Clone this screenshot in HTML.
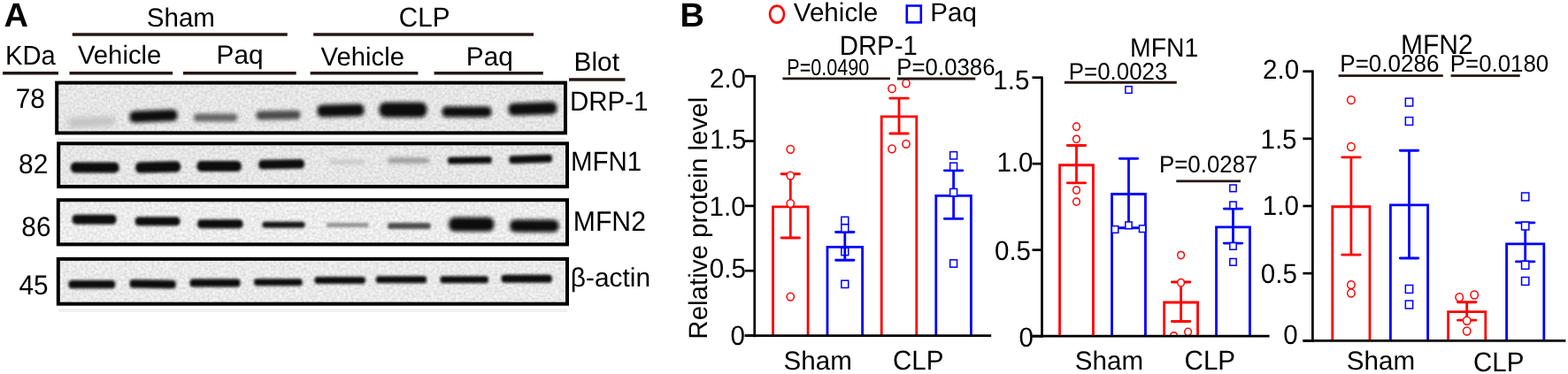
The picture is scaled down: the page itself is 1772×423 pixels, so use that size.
<!DOCTYPE html>
<html><head><meta charset="utf-8"><title>Figure</title>
<style>html,body{margin:0;padding:0;background:#fff;}svg{display:block;}text{font-family:'Liberation Sans', Arial, Helvetica, sans-serif;fill:#000;text-rendering:geometricPrecision;}</style>
</head><body>
<svg width="1772" height="423" viewBox="0 0 1772 423">
<rect width="1772" height="423" fill="#fff"/>
<text x="4.44" y="30.40" font-size="38" font-weight="bold">A</text>
<text x="165.72" y="29.50" font-size="29.6">Sham</text>
<text transform="translate(450.82 29.60) scale(1 1.045)" font-size="29.6">CLP</text>
<text transform="translate(5.96 73.30) scale(1 1.045)" font-size="29.2">KDa</text>
<text x="87.90" y="72.20" font-size="29.3">Vehicle</text>
<text x="244.62" y="72.20" font-size="29.8">Paq</text>
<text x="362.50" y="74.00" font-size="29.3">Vehicle</text>
<text x="526.82" y="74.00" font-size="29.8">Paq</text>
<text x="648.62" y="80.00" font-size="29.8">Blot</text>
<text transform="translate(17.71 122.00) scale(1 1.045)" font-size="29.8">78</text>
<text transform="translate(21.11 195.80) scale(1 1.045)" font-size="29.8">82</text>
<text transform="translate(24.31 267.40) scale(1 1.045)" font-size="29.8">86</text>
<text transform="translate(21.40 332.50) scale(1 1.045)" font-size="29.8">45</text>
<text transform="translate(643.94 124.70) scale(1 1.045)" font-size="29.5">DRP-1</text>
<text transform="translate(644.94 192.50) scale(1 1.045)" font-size="29.5">MFN1</text>
<text transform="translate(647.78 260.70) scale(1 1.045)" font-size="30.2">MFN2</text>
<text x="644.81" y="324.10" font-size="29.9">β-actin</text>
<line x1="81.7" y1="39" x2="324.8" y2="39" stroke="#231815" stroke-width="3.6"/>
<line x1="354.2" y1="39" x2="603" y2="39" stroke="#231815" stroke-width="3.6"/>
<line x1="3" y1="82.7" x2="66" y2="82.7" stroke="#231815" stroke-width="3.6"/>
<line x1="78.5" y1="82.7" x2="195.2" y2="82.7" stroke="#231815" stroke-width="3.6"/>
<line x1="207" y1="82.7" x2="334.7" y2="82.7" stroke="#231815" stroke-width="3.6"/>
<line x1="350.6" y1="82.7" x2="472.4" y2="82.7" stroke="#231815" stroke-width="3.6"/>
<line x1="490.6" y1="82.7" x2="613.8" y2="82.7" stroke="#231815" stroke-width="3.6"/>
<line x1="643" y1="90" x2="706.5" y2="90" stroke="#231815" stroke-width="3.6"/>
<defs><filter id="bl1_5" x="-30%" y="-150%" width="160%" height="400%"><feGaussianBlur stdDeviation="1.5"/></filter><filter id="bl1_6" x="-30%" y="-150%" width="160%" height="400%"><feGaussianBlur stdDeviation="1.6"/></filter><filter id="bl1_8" x="-30%" y="-150%" width="160%" height="400%"><feGaussianBlur stdDeviation="1.8"/></filter><filter id="bl2" x="-30%" y="-150%" width="160%" height="400%"><feGaussianBlur stdDeviation="2"/></filter><filter id="bl2_2" x="-30%" y="-150%" width="160%" height="400%"><feGaussianBlur stdDeviation="2.2"/></filter><filter id="bl3" x="-30%" y="-150%" width="160%" height="400%"><feGaussianBlur stdDeviation="3"/></filter></defs>
<rect x="64.2" y="156.0" width="574.8" height="3.6" fill="#f0f0f0"/>
<rect x="65.8" y="349.3" width="575.2" height="3.6" fill="#f0f0f0"/>
<filter id="nz" x="0" y="0" width="100%" height="100%"><feTurbulence type="fractalNoise" baseFrequency="0.32" numOctaves="2" seed="5"/><feColorMatrix type="matrix" values="0 0 0 0 0  0 0 0 0 0  0 0 0 0 0  0.22 0 0 0 -0.065"/><feGaussianBlur stdDeviation="0.5"/></filter>
<rect x="64.2" y="93.6" width="574.8" height="56.80000000000001" fill="#f0f0f0" stroke="#000" stroke-width="4.0"/>
<rect x="66.2" y="95.6" width="570.8" height="52.80000000000001" fill="#000" filter="url(#nz)"/>
<rect x="76.5" y="132.5" width="53" height="11" rx="4.62" fill="rgb(194,194,194)" filter="url(#bl3)" transform="rotate(-3 103.0 138)"/>
<rect x="146.5" y="124.80000000000001" width="54" height="13" rx="5.46" fill="rgb(16,16,16)" filter="url(#bl2_2)" transform="rotate(-2.5 173.5 131.3)"/>
<rect x="219.1" y="128.5" width="49.00000000000003" height="9" rx="3.78" fill="rgb(101,101,101)" filter="url(#bl2)" transform="rotate(0 243.60000000000002 133)"/>
<rect x="289.5" y="125.30000000000001" width="50" height="10" rx="4.20" fill="rgb(72,72,72)" filter="url(#bl2)" transform="rotate(-1 314.5 130.3)"/>
<rect x="358.5" y="117.9" width="53" height="14" rx="5.88" fill="#0c0c0c" filter="url(#bl2)" transform="rotate(-1.5 385.0 124.9)"/>
<rect x="428.5" y="115.7" width="54" height="17" rx="7.14" fill="#0c0c0c" filter="url(#bl2)" transform="rotate(0 455.5 124.2)"/>
<rect x="499.5" y="120.4" width="56" height="12" rx="5.04" fill="#0c0c0c" filter="url(#bl2)" transform="rotate(0 527.5 126.4)"/>
<rect x="574.5" y="116.0" width="55" height="14" rx="5.88" fill="#0c0c0c" filter="url(#bl2)" transform="rotate(-2 602.0 123)"/>
<rect x="66.2" y="162.3" width="574.8" height="48.79999999999998" fill="#f0f0f0" stroke="#000" stroke-width="4.0"/>
<rect x="68.2" y="164.3" width="570.8" height="44.79999999999998" fill="#000" filter="url(#nz)"/>
<rect x="79.9" y="183.5" width="54.599999999999994" height="12" rx="5.04" fill="#0c0c0c" filter="url(#bl1_8)" transform="rotate(0 107.2 189.5)"/>
<rect x="153.1" y="182.75" width="51.0" height="12.5" rx="5.25" fill="#0c0c0c" filter="url(#bl1_8)" transform="rotate(-1.5 178.6 189)"/>
<rect x="222.5" y="182.0" width="50.30000000000001" height="12" rx="5.04" fill="#0c0c0c" filter="url(#bl1_8)" transform="rotate(0 247.65 188)"/>
<rect x="292.2" y="180.55" width="51.80000000000001" height="10.5" rx="4.41" fill="#0c0c0c" filter="url(#bl1_8)" transform="rotate(-1 318.1 185.8)"/>
<rect x="373.1" y="181.3" width="38.69999999999999" height="4" rx="1.68" fill="rgb(191,191,191)" filter="url(#bl2)" transform="rotate(0 392.45000000000005 183.3)"/>
<rect x="438.1" y="178.6" width="46.89999999999998" height="6" rx="2.52" fill="rgb(151,151,151)" filter="url(#bl2)" transform="rotate(0 461.55 181.6)"/>
<rect x="506.0" y="177.3" width="49.799999999999955" height="8" rx="3.36" fill="#0c0c0c" filter="url(#bl1_6)" transform="rotate(-1 530.9 181.3)"/>
<rect x="575.4" y="175.5" width="48.60000000000002" height="9" rx="3.78" fill="#0c0c0c" filter="url(#bl1_6)" transform="rotate(-2 599.7 180)"/>
<rect x="65.8" y="226.2" width="575.2" height="50.19999999999999" fill="#f7f7f7" stroke="#000" stroke-width="4.0"/>
<rect x="67.8" y="228.2" width="571.2" height="46.19999999999999" fill="#000" filter="url(#nz)"/>
<rect x="81.5" y="242.7" width="50" height="11" rx="4.62" fill="#0c0c0c" filter="url(#bl1_8)" transform="rotate(0 106.5 248.2)"/>
<rect x="152.7" y="245.3" width="50.80000000000001" height="10" rx="4.20" fill="#0c0c0c" filter="url(#bl1_8)" transform="rotate(0 178.1 250.3)"/>
<rect x="223.1" y="248.3" width="51.400000000000006" height="10" rx="4.20" fill="#0c0c0c" filter="url(#bl1_8)" transform="rotate(0 248.8 253.3)"/>
<rect x="296.5" y="250.8" width="48" height="7" rx="2.94" fill="rgb(18,18,18)" filter="url(#bl1_6)" transform="rotate(0 320.5 254.3)"/>
<rect x="369.0" y="252.0" width="47.80000000000001" height="5" rx="2.10" fill="rgb(146,146,146)" filter="url(#bl1_5)" transform="rotate(0 392.9 254.5)"/>
<rect x="438.1" y="252.1" width="48.599999999999966" height="7" rx="2.94" fill="rgb(79,79,79)" filter="url(#bl1_6)" transform="rotate(0 462.4 255.6)"/>
<rect x="507.2" y="245.7" width="51.099999999999966" height="16" rx="6.72" fill="#0c0c0c" filter="url(#bl2)" transform="rotate(0 532.75 253.7)"/>
<rect x="576.2" y="248.5" width="55.299999999999955" height="14" rx="5.88" fill="#0c0c0c" filter="url(#bl2)" transform="rotate(0 603.85 255.5)"/>
<rect x="65.8" y="292.9" width="575.2" height="50.80000000000001" fill="#f4f4f4" stroke="#000" stroke-width="4.0"/>
<rect x="67.8" y="294.9" width="571.2" height="46.80000000000001" fill="#000" filter="url(#nz)"/>
<rect x="77.4" y="316.90000000000003" width="52.79999999999998" height="9.4" rx="3.95" fill="#0c0c0c" filter="url(#bl1_6)" transform="rotate(0 103.8 321.6)"/>
<rect x="146.5" y="316.45" width="52.30000000000001" height="9.5" rx="3.99" fill="#0c0c0c" filter="url(#bl1_6)" transform="rotate(1 172.65 321.2)"/>
<rect x="214.5" y="315.5" width="57" height="9" rx="3.78" fill="#0c0c0c" filter="url(#bl1_6)" transform="rotate(0 243.0 320)"/>
<rect x="287.0" y="315.2" width="54.80000000000001" height="8" rx="3.36" fill="#0c0c0c" filter="url(#bl1_6)" transform="rotate(0 314.4 319.2)"/>
<rect x="355.5" y="313.0" width="57.39999999999998" height="8" rx="3.36" fill="#0c0c0c" filter="url(#bl1_6)" transform="rotate(0 384.2 317)"/>
<rect x="424.8" y="312.3" width="57.30000000000001" height="8" rx="3.36" fill="#0c0c0c" filter="url(#bl1_6)" transform="rotate(0 453.45000000000005 316.3)"/>
<rect x="497.5" y="312.3" width="54.39999999999998" height="8" rx="3.36" fill="#0c0c0c" filter="url(#bl1_6)" transform="rotate(0 524.7 316.3)"/>
<rect x="566.5" y="310.8" width="57.39999999999998" height="9" rx="3.78" fill="#0c0c0c" filter="url(#bl1_6)" transform="rotate(0 595.2 315.3)"/>
<text x="768.62" y="30.40" font-size="38" font-weight="bold">B</text>
<ellipse cx="878" cy="16.1" rx="8.05" ry="9.5" fill="none" stroke="#ff0000" stroke-width="2.6"/>
<text x="896.80" y="24.20" font-size="29.6">Vehicle</text>
<rect x="1024.8" y="6.5" width="16" height="18.9" fill="none" stroke="#0000ff" stroke-width="2.6"/>
<text x="1051.23" y="24.20" font-size="29.6">Paq</text>
<text transform="translate(948.65 62.00) scale(1 1.045)" font-size="29.4">DRP-1</text>
<clipPath id="cp1"><rect x="852.75" y="0" width="267.45000000000005" height="378.30"/></clipPath>
<path d="M873.50 379.60 V233.78 H913.10 V379.60" fill="none" stroke="#ff0000" stroke-width="2.8"/>
<line x1="893.3" y1="196.81180000000003" x2="893.3" y2="268.9882" stroke="#ff0000" stroke-width="2.8"/>
<path d="M883.10 196.81 H903.50 M883.10 268.99 H903.50" stroke="#ff0000" stroke-width="2.9" stroke-linecap="round"/>
<g clip-path="url(#cp1)">
<ellipse cx="893.30" cy="168.79" rx="4.15" ry="4.40" fill="#fff" stroke="#ff0000" stroke-width="1.5"/>
<ellipse cx="893.30" cy="198.57" rx="4.15" ry="4.40" fill="#fff" stroke="#ff0000" stroke-width="1.5"/>
<ellipse cx="893.30" cy="230.11" rx="4.15" ry="4.40" fill="#fff" stroke="#ff0000" stroke-width="1.5"/>
<ellipse cx="893.30" cy="335.59" rx="4.15" ry="4.40" fill="#fff" stroke="#ff0000" stroke-width="1.5"/>
</g>
<path d="M935.00 379.60 V279.40 H974.60 V379.60" fill="none" stroke="#0000ff" stroke-width="2.8"/>
<line x1="954.8" y1="262.53340000000003" x2="954.8" y2="294.22060000000005" stroke="#0000ff" stroke-width="2.8"/>
<path d="M944.60 262.53 H965.00 M944.60 294.22 H965.00" stroke="#0000ff" stroke-width="2.9" stroke-linecap="round"/>
<g clip-path="url(#cp1)">
<rect x="950.85" y="245.33" width="7.90" height="8.30" fill="#fff" stroke="#0000ff" stroke-width="1.5"/>
<rect x="950.85" y="253.84" width="7.90" height="8.30" fill="#fff" stroke="#0000ff" stroke-width="1.5"/>
<rect x="950.85" y="280.39" width="7.90" height="8.30" fill="none" stroke="#0000ff" stroke-width="1.5"/>
<rect x="950.85" y="317.21" width="7.90" height="8.30" fill="#fff" stroke="#0000ff" stroke-width="1.5"/>
</g>
<path d="M996.20 379.60 V131.97 H1035.80 V379.60" fill="none" stroke="#ff0000" stroke-width="2.8"/>
<line x1="1016.0" y1="111.13900000000001" x2="1016.0" y2="151.04140000000004" stroke="#ff0000" stroke-width="2.8"/>
<path d="M1005.80 111.14 H1026.20 M1005.80 151.04 H1026.20" stroke="#ff0000" stroke-width="2.9" stroke-linecap="round"/>
<g clip-path="url(#cp1)">
<ellipse cx="1008.00" cy="100.14" rx="4.15" ry="4.40" fill="#fff" stroke="#ff0000" stroke-width="1.5"/>
<ellipse cx="1024.00" cy="94.27" rx="4.15" ry="4.40" fill="#fff" stroke="#ff0000" stroke-width="1.5"/>
<ellipse cx="1008.00" cy="168.35" rx="4.15" ry="4.40" fill="#fff" stroke="#ff0000" stroke-width="1.5"/>
<ellipse cx="1024.00" cy="162.78" rx="4.15" ry="4.40" fill="#fff" stroke="#ff0000" stroke-width="1.5"/>
</g>
<path d="M1057.80 379.60 V221.31 H1097.40 V379.60" fill="none" stroke="#0000ff" stroke-width="2.8"/>
<line x1="1077.6" y1="192.85090000000005" x2="1077.6" y2="247.42330000000004" stroke="#0000ff" stroke-width="2.8"/>
<path d="M1067.40 192.85 H1087.80 M1067.40 247.42 H1087.80" stroke="#0000ff" stroke-width="2.9" stroke-linecap="round"/>
<g clip-path="url(#cp1)">
<rect x="1073.65" y="171.68" width="7.90" height="8.30" fill="#fff" stroke="#0000ff" stroke-width="1.5"/>
<rect x="1073.65" y="184.15" width="7.90" height="8.30" fill="#fff" stroke="#0000ff" stroke-width="1.5"/>
<rect x="1073.65" y="213.49" width="7.90" height="8.30" fill="#fff" stroke="#0000ff" stroke-width="1.5"/>
<rect x="1073.65" y="293.88" width="7.90" height="8.30" fill="#fff" stroke="#0000ff" stroke-width="1.5"/>
</g>
<line x1="852.75" y1="84.90000000000005" x2="852.75" y2="381.20000000000005" stroke="#000" stroke-width="2.7"/>
<line x1="841.75" y1="379.6" x2="852.75" y2="379.6" stroke="#000" stroke-width="2.7"/>
<text transform="translate(825.41 389.80) scale(1 1.045)" font-size="29.6">0</text>
<line x1="841.75" y1="306.25" x2="852.75" y2="306.25" stroke="#000" stroke-width="2.7"/>
<text transform="translate(801.72 314.20) scale(1 1.045)" font-size="29.6">0.5</text>
<line x1="841.75" y1="232.90000000000003" x2="852.75" y2="232.90000000000003" stroke="#000" stroke-width="2.7"/>
<text transform="translate(801.52 243.80) scale(1 1.045)" font-size="29.6">1.0</text>
<line x1="841.75" y1="159.55000000000004" x2="852.75" y2="159.55000000000004" stroke="#000" stroke-width="2.7"/>
<text transform="translate(802.22 167.90) scale(1 1.045)" font-size="29.6">1.5</text>
<line x1="841.75" y1="86.20000000000005" x2="852.75" y2="86.20000000000005" stroke="#000" stroke-width="2.7"/>
<text transform="translate(801.92 99.20) scale(1 1.045)" font-size="29.6">2.0</text>
<line x1="841.75" y1="379.6" x2="1120.2" y2="379.6" stroke="#000" stroke-width="2.7"/>
<text x="885.52" y="418.40" font-size="29.6">Sham</text>
<text transform="translate(1008.92 418.40) scale(1 1.045)" font-size="29.5">CLP</text>
<text transform="translate(1277.03 64.00) scale(1 1.045)" font-size="28.4">MFN1</text>
<clipPath id="cp2"><rect x="1177.5" y="0" width="257.0999999999999" height="378.90"/></clipPath>
<path d="M1197.55 380.20 V186.76 H1235.45 V380.20" fill="none" stroke="#ff0000" stroke-width="2.8"/>
<line x1="1216.5" y1="164.52999999999997" x2="1216.5" y2="206.845" stroke="#ff0000" stroke-width="2.8"/>
<path d="M1206.30 164.53 H1226.70 M1206.30 206.84 H1226.70" stroke="#ff0000" stroke-width="2.9" stroke-linecap="round"/>
<g clip-path="url(#cp2)">
<ellipse cx="1216.50" cy="143.27" rx="3.85" ry="4.15" fill="#fff" stroke="#ff0000" stroke-width="1.5"/>
<ellipse cx="1216.50" cy="157.31" rx="3.85" ry="4.15" fill="#fff" stroke="#ff0000" stroke-width="1.5"/>
<ellipse cx="1216.50" cy="215.03" rx="3.85" ry="4.15" fill="#fff" stroke="#ff0000" stroke-width="1.5"/>
<ellipse cx="1216.50" cy="228.10" rx="3.85" ry="4.15" fill="#fff" stroke="#ff0000" stroke-width="1.5"/>
</g>
<path d="M1256.55 380.20 V219.52 H1294.45 V380.20" fill="none" stroke="#0000ff" stroke-width="2.8"/>
<line x1="1275.5" y1="179.35" x2="1275.5" y2="257.74" stroke="#0000ff" stroke-width="2.8"/>
<path d="M1265.30 179.35 H1285.70 M1265.30 257.74 H1285.70" stroke="#0000ff" stroke-width="2.9" stroke-linecap="round"/>
<g clip-path="url(#cp2)">
<rect x="1256.45" y="255.65" width="7.30" height="7.70" fill="#fff" stroke="#0000ff" stroke-width="1.5"/>
<rect x="1271.85" y="250.97" width="7.30" height="7.70" fill="#fff" stroke="#0000ff" stroke-width="1.5"/>
<rect x="1287.45" y="254.86" width="7.30" height="7.70" fill="#fff" stroke="#0000ff" stroke-width="1.5"/>
<rect x="1271.85" y="97.69" width="7.30" height="7.70" fill="#fff" stroke="#0000ff" stroke-width="1.5"/>
</g>
<path d="M1315.65 380.20 V341.98 H1353.55 V380.20" fill="none" stroke="#ff0000" stroke-width="2.8"/>
<line x1="1334.6" y1="318.96999999999997" x2="1334.6" y2="363.43" stroke="#ff0000" stroke-width="2.8"/>
<path d="M1324.40 318.97 H1344.80 M1324.40 363.43 H1344.80" stroke="#ff0000" stroke-width="2.9" stroke-linecap="round"/>
<g clip-path="url(#cp2)">
<ellipse cx="1334.60" cy="288.55" rx="3.85" ry="4.15" fill="#fff" stroke="#ff0000" stroke-width="1.5"/>
<ellipse cx="1334.60" cy="319.75" rx="3.85" ry="4.15" fill="#fff" stroke="#ff0000" stroke-width="1.5"/>
<ellipse cx="1326.60" cy="379.81" rx="3.85" ry="4.15" fill="#fff" stroke="#ff0000" stroke-width="1.5"/>
<ellipse cx="1342.60" cy="375.32" rx="3.85" ry="4.15" fill="#fff" stroke="#ff0000" stroke-width="1.5"/>
</g>
<path d="M1374.55 380.20 V256.96 H1412.45 V380.20" fill="none" stroke="#0000ff" stroke-width="2.8"/>
<line x1="1393.5" y1="236.095" x2="1393.5" y2="275.09499999999997" stroke="#0000ff" stroke-width="2.8"/>
<path d="M1383.30 236.09 H1403.70 M1383.30 275.09 H1403.70" stroke="#0000ff" stroke-width="2.9" stroke-linecap="round"/>
<g clip-path="url(#cp2)">
<rect x="1389.85" y="209.04" width="7.30" height="7.70" fill="#fff" stroke="#0000ff" stroke-width="1.5"/>
<rect x="1389.85" y="228.15" width="7.30" height="7.70" fill="#fff" stroke="#0000ff" stroke-width="1.5"/>
<rect x="1389.85" y="274.56" width="7.30" height="7.70" fill="#fff" stroke="#0000ff" stroke-width="1.5"/>
<rect x="1389.85" y="292.50" width="7.30" height="7.70" fill="#fff" stroke="#0000ff" stroke-width="1.5"/>
</g>
<line x1="1177.5" y1="86.39999999999999" x2="1177.5" y2="381.8" stroke="#000" stroke-width="2.7"/>
<line x1="1166.5" y1="380.2" x2="1177.5" y2="380.2" stroke="#000" stroke-width="2.7"/>
<text transform="translate(1151.61 391.70) scale(1 1.045)" font-size="29.6">0</text>
<line x1="1166.5" y1="282.7" x2="1177.5" y2="282.7" stroke="#000" stroke-width="2.7"/>
<text transform="translate(1123.92 293.50) scale(1 1.045)" font-size="29.6">0.5</text>
<line x1="1166.5" y1="185.2" x2="1177.5" y2="185.2" stroke="#000" stroke-width="2.7"/>
<text transform="translate(1126.42 194.00) scale(1 1.045)" font-size="29.6">1.0</text>
<line x1="1166.5" y1="87.69999999999999" x2="1177.5" y2="87.69999999999999" stroke="#000" stroke-width="2.7"/>
<text transform="translate(1122.22 100.50) scale(1 1.045)" font-size="29.6">1.5</text>
<line x1="1166.5" y1="380.2" x2="1434.6" y2="380.2" stroke="#000" stroke-width="2.7"/>
<text x="1214.82" y="418.00" font-size="29.6">Sham</text>
<text transform="translate(1338.52 418.00) scale(1 1.045)" font-size="29.6">CLP</text>
<text transform="translate(1582.90 60.60) scale(1 1.045)" font-size="30.0">MFN2</text>
<clipPath id="cp3"><rect x="1483.4" y="0" width="286.0" height="384.00"/></clipPath>
<path d="M1505.80 385.30 V233.76 H1548.00 V385.30" fill="none" stroke="#ff0000" stroke-width="2.8"/>
<line x1="1526.9" y1="177.86739999999998" x2="1526.9" y2="288.1326" stroke="#ff0000" stroke-width="2.8"/>
<path d="M1516.70 177.87 H1537.10 M1516.70 288.13 H1537.10" stroke="#ff0000" stroke-width="2.9" stroke-linecap="round"/>
<g clip-path="url(#cp3)">
<ellipse cx="1526.90" cy="113.14" rx="4.25" ry="4.45" fill="#fff" stroke="#ff0000" stroke-width="1.5"/>
<ellipse cx="1526.90" cy="165.99" rx="4.25" ry="4.45" fill="#fff" stroke="#ff0000" stroke-width="1.5"/>
<ellipse cx="1526.90" cy="322.10" rx="4.25" ry="4.45" fill="#fff" stroke="#ff0000" stroke-width="1.5"/>
<ellipse cx="1526.90" cy="331.54" rx="4.25" ry="4.45" fill="#fff" stroke="#ff0000" stroke-width="1.5"/>
</g>
<path d="M1571.40 385.30 V231.93 H1613.60 V385.30" fill="none" stroke="#0000ff" stroke-width="2.8"/>
<line x1="1592.5" y1="170.2524" x2="1592.5" y2="291.94010000000003" stroke="#0000ff" stroke-width="2.8"/>
<path d="M1582.30 170.25 H1602.70 M1582.30 291.94 H1602.70" stroke="#0000ff" stroke-width="2.9" stroke-linecap="round"/>
<g clip-path="url(#cp3)">
<rect x="1588.35" y="111.13" width="8.30" height="8.90" fill="#fff" stroke="#0000ff" stroke-width="1.5"/>
<rect x="1588.35" y="132.60" width="8.30" height="8.90" fill="#fff" stroke="#0000ff" stroke-width="1.5"/>
<rect x="1588.35" y="322.52" width="8.30" height="8.90" fill="#fff" stroke="#0000ff" stroke-width="1.5"/>
<rect x="1588.35" y="340.03" width="8.30" height="8.90" fill="#fff" stroke="#0000ff" stroke-width="1.5"/>
</g>
<path d="M1636.60 385.30 V352.56 H1678.80 V385.30" fill="none" stroke="#ff0000" stroke-width="2.8"/>
<line x1="1657.7" y1="341.7422" x2="1657.7" y2="362.1504" stroke="#ff0000" stroke-width="2.8"/>
<path d="M1647.50 341.74 H1667.90 M1647.50 362.15 H1667.90" stroke="#ff0000" stroke-width="2.9" stroke-linecap="round"/>
<g clip-path="url(#cp3)">
<ellipse cx="1649.20" cy="336.26" rx="4.25" ry="4.45" fill="#fff" stroke="#ff0000" stroke-width="1.5"/>
<ellipse cx="1666.20" cy="333.52" rx="4.25" ry="4.45" fill="#fff" stroke="#ff0000" stroke-width="1.5"/>
<ellipse cx="1657.70" cy="362.76" rx="4.25" ry="4.45" fill="#fff" stroke="#ff0000" stroke-width="1.5"/>
<ellipse cx="1657.70" cy="374.49" rx="4.25" ry="4.45" fill="#fff" stroke="#ff0000" stroke-width="1.5"/>
</g>
<path d="M1702.60 385.30 V275.95 H1744.80 V385.30" fill="none" stroke="#0000ff" stroke-width="2.8"/>
<line x1="1723.7" y1="251.8852" x2="1723.7" y2="295.8999" stroke="#0000ff" stroke-width="2.8"/>
<path d="M1713.50 251.89 H1733.90 M1713.50 295.90 H1733.90" stroke="#0000ff" stroke-width="2.9" stroke-linecap="round"/>
<g clip-path="url(#cp3)">
<rect x="1719.55" y="218.04" width="8.30" height="8.90" fill="#fff" stroke="#0000ff" stroke-width="1.5"/>
<rect x="1719.55" y="251.09" width="8.30" height="8.90" fill="#fff" stroke="#0000ff" stroke-width="1.5"/>
<rect x="1719.55" y="295.41" width="8.30" height="8.90" fill="#fff" stroke="#0000ff" stroke-width="1.5"/>
<rect x="1719.55" y="313.53" width="8.30" height="8.90" fill="#fff" stroke="#0000ff" stroke-width="1.5"/>
</g>
<line x1="1483.4" y1="79.39999999999999" x2="1483.4" y2="386.90000000000003" stroke="#000" stroke-width="2.7"/>
<line x1="1472.4" y1="385.3" x2="1483.4" y2="385.3" stroke="#000" stroke-width="2.7"/>
<text transform="translate(1450.31 389.00) scale(1 1.045)" font-size="29.6">0</text>
<line x1="1472.4" y1="309.15" x2="1483.4" y2="309.15" stroke="#000" stroke-width="2.7"/>
<text transform="translate(1424.82 319.50) scale(1 1.045)" font-size="29.6">0.5</text>
<line x1="1472.4" y1="233.0" x2="1483.4" y2="233.0" stroke="#000" stroke-width="2.7"/>
<text transform="translate(1426.72 243.10) scale(1 1.045)" font-size="29.6">1.0</text>
<line x1="1472.4" y1="156.85" x2="1483.4" y2="156.85" stroke="#000" stroke-width="2.7"/>
<text transform="translate(1424.42 167.60) scale(1 1.045)" font-size="29.6">1.5</text>
<line x1="1472.4" y1="80.69999999999999" x2="1483.4" y2="80.69999999999999" stroke="#000" stroke-width="2.7"/>
<text transform="translate(1427.02 89.00) scale(1 1.045)" font-size="29.6">2.0</text>
<line x1="1472.4" y1="385.3" x2="1769.4" y2="385.3" stroke="#000" stroke-width="2.7"/>
<text x="1521.82" y="417.60" font-size="29.6">Sham</text>
<text transform="translate(1665.03 419.90) scale(1 1.045)" font-size="29.5">CLP</text>
<text transform="translate(798.9 381.3) rotate(-90)" x="-2.36" y="0" font-size="29.5">Relative protein level</text>
<line x1="884.4" y1="88.9" x2="1005.9" y2="88.9" stroke="#231815" stroke-width="2.9"/>
<line x1="1013.8" y1="89.0" x2="1102.3" y2="89.0" stroke="#231815" stroke-width="2.9"/>
<line x1="1202.9" y1="93.2" x2="1329.8" y2="93.2" stroke="#231815" stroke-width="2.9"/>
<line x1="1329.3" y1="204.9" x2="1402.0" y2="204.9" stroke="#231815" stroke-width="2.9"/>
<line x1="1512.6" y1="85.6" x2="1630.7" y2="85.6" stroke="#231815" stroke-width="2.9"/>
<line x1="1639.6" y1="85.6" x2="1717.7" y2="85.6" stroke="#231815" stroke-width="2.9"/>
<text transform="translate(891 85) scale(0.8677 1.045)" x="-1.99" y="0" font-size="24.9">P=0.0490</text>
<text transform="translate(1013.34 84.80) scale(1 1.045)" font-size="25.8">P=0.0386</text>
<text transform="translate(1207.83 89.60) scale(1 1.045)" font-size="25.9">P=0.0023</text>
<text transform="translate(1309.93 195.40) scale(1 1.045)" font-size="25.9">P=0.0287</text>
<text transform="translate(1514.32 81.00) scale(1 1.045)" font-size="26.0">P=0.0286</text>
<text transform="translate(1638.83 81.00) scale(1 1.045)" font-size="25.85">P=0.0180</text>
</svg>
</body></html>
